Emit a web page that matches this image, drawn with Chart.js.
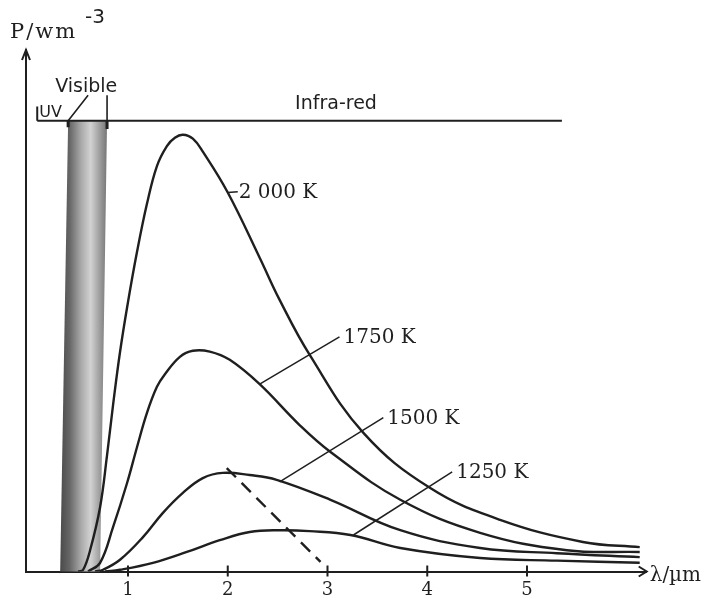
<!DOCTYPE html>
<html>
<head>
<meta charset="utf-8">
<script src="https://cdn.jsdelivr.net/npm/chart.js@4"></script>
<style>
  html, body { margin: 0; padding: 0; background: #fff; }
  #wrap { width: 705px; height: 600px; }
</style>
</head>
<body>
<div id="wrap"><canvas id="chart"></canvas></div>
<script>
// black-body curves, P in arbitrary units (2000 K peak ~ 100), λ in µm
const LAMBDA_2000 = [0.50, 0.55, 0.62, 0.72, 0.79, 0.85, 0.92, 1.00, 1.09, 1.19, 1.29, 1.39, 1.47, 1.55, 1.65, 1.75, 2.00, 2.32, 2.52, 2.82, 3.36, 4.03, 4.73, 5.56, 6.13];
const P_2000      = [0.0,  0.4,  4.9,  14.8, 26.8, 38.3, 50.5, 62.0, 73.5, 84.6, 93.3, 97.9, 99.8, 100.5, 99.6, 96.6, 87.2, 72.2, 62.5, 49.9, 31.9, 19.2, 11.9, 6.8, 5.6];

const LAMBDA_1750 = [0.60, 0.72, 0.85, 0.99, 1.09, 1.19, 1.29, 1.37, 1.52, 1.65, 1.82, 2.02, 2.32, 2.72, 3.03, 3.73, 4.53, 5.40, 6.13];
const P_1750      = [0.0,  2.0,  10.2, 20.3, 28.6, 36.5, 42.5, 45.4, 49.4, 50.8, 50.6, 48.7, 43.1, 33.7, 27.5, 16.5, 8.9,  4.9,  4.5];

const LAMBDA_1500 = [0.67, 0.75, 0.92, 1.15, 1.35, 1.55, 1.75, 1.95, 2.22, 2.49, 3.03, 3.73, 4.53, 5.30, 6.13];
const P_1500      = [0.0,  0.4,  2.7,  7.9,  13.5, 18.1, 21.5, 22.7, 22.2, 21.1, 16.5, 9.5,  5.4,  4.2,  3.3];

const LAMBDA_1250 = [0.77, 0.92, 1.25, 1.59, 1.92, 2.22, 2.52, 2.82, 3.23, 3.73, 4.53, 5.30, 6.13];
const P_1250      = [0.0,  0.4,  2.0,  4.5,  7.2,  9.1,  9.5,  9.3,  8.4,  5.4,  3.1,  2.5,  2.0];

// dashed locus of the maxima
const LAMBDA_PEAK = [1.99, 2.93];
const P_PEAK      = [23.8, 2.2];

const X_TICKS = [1, 2, 3, 4, 5];
const X_TICK_LABELS = ["1", "2", "3", "4", "5"];
const TEMP_LABELS = ["2 000 K", "1750 K", "1500 K", "1250 K"];

// visible band edges in µm (top / bottom of the band)
const VISIBLE_TOP = [0.40, 0.79];
const VISIBLE_BOTTOM = [0.32, 0.72];

const X_MIN = -0.0226, X_MAX = 6.2, Y_MAX = 120;
const INK = "#1f1f1f";

// label leaders: [from λ, from P, to λ, to P]  (text sits right of the end point)
const LEADERS = [
  [2.00, 87.2, 2.10, 87.4],
  [2.32, 43.1, 3.12, 54.0],
  [2.52, 20.6, 3.56, 35.4],
  [3.26, 8.4, 4.25, 22.9],
];

const pts = (xs, ys) => xs.map((x, i) => ({ x, y: ys[i] }));

const curve = (data) => ({
  data,
  borderColor: INK,
  borderWidth: 2.4,
  pointRadius: 0,
  tension: 0.4,
  fill: false,
});

const decorations = {
  id: "decorations",
  beforeDatasetsDraw(chart) {
    const { ctx, chartArea: a, scales: { x, y } } = chart;
    const irY = y.getPixelForValue(103.7);
    const tl = x.getPixelForValue(VISIBLE_TOP[0]), tr = x.getPixelForValue(VISIBLE_TOP[1]);
    const bl = x.getPixelForValue(VISIBLE_BOTTOM[0]), br = x.getPixelForValue(VISIBLE_BOTTOM[1]);
    const g = ctx.createLinearGradient(Math.min(tl, bl), 0, Math.max(tr, br), 0);
    g.addColorStop(0, "#4a4a4a");
    g.addColorStop(0.2, "#666");
    g.addColorStop(0.45, "#aaa");
    g.addColorStop(0.65, "#d2d2d2");
    g.addColorStop(0.85, "#9c9c9c");
    g.addColorStop(1, "#767676");
    ctx.save();
    ctx.fillStyle = g;
    ctx.beginPath();
    ctx.moveTo(tl, irY);
    ctx.lineTo(tr, irY);
    ctx.lineTo(br, a.bottom);
    ctx.lineTo(bl, a.bottom);
    ctx.closePath();
    ctx.fill();
    ctx.restore();
  },
  afterDatasetsDraw(chart) {
    const { ctx, chartArea: a, scales: { x, y } } = chart;
    const X = v => x.getPixelForValue(v), Y = v => y.getPixelForValue(v);
    ctx.save();
    ctx.strokeStyle = INK;
    ctx.fillStyle = INK;
    ctx.lineCap = "butt";

    // infra-red bar + UV / visible markers
    ctx.lineWidth = 2;
    ctx.beginPath();
    ctx.moveTo(X(0.09), Y(103.7)); ctx.lineTo(X(5.35), Y(103.7));
    ctx.moveTo(X(0.09), Y(103.7)); ctx.lineTo(X(0.09), Y(107.0));
    ctx.stroke();
    ctx.lineWidth = 1.6;
    ctx.beginPath();
    ctx.moveTo(X(0.60), Y(109.6)); ctx.lineTo(X(0.40), Y(103.7));
    ctx.moveTo(X(0.79), Y(109.6)); ctx.lineTo(X(0.79), Y(103.7));
    ctx.stroke();
    ctx.lineWidth = 3;
    ctx.beginPath();
    ctx.moveTo(X(0.79), Y(103.7)); ctx.lineTo(X(0.79), Y(101.8));
    ctx.moveTo(X(0.40), Y(103.7)); ctx.lineTo(X(0.40), Y(102.2));
    ctx.stroke();

    ctx.textBaseline = "middle";
    ctx.textAlign = "center";
    ctx.font = "19px 'DejaVu Sans'";
    ctx.fillText("Infra-red", X(3.085), Y(107.6));
    ctx.textAlign = "left";
    ctx.fillText("Visible", X(0.27), Y(111.5));
    ctx.font = "16px 'DejaVu Sans'";
    ctx.fillText("UV", X(0.11), Y(105.6));

    // temperature labels with leader lines
    ctx.lineWidth = 1.5;
    ctx.font = "20px 'DejaVu Serif'";
    LEADERS.forEach(([x0, y0, x1, y1], i) => {
      ctx.beginPath();
      ctx.moveTo(X(x0), Y(y0));
      ctx.lineTo(X(x1), Y(y1));
      ctx.stroke();
      ctx.fillText(TEMP_LABELS[i], X(x1) + (i === 0 ? 1 : 4), Y(y1) + 1);
    });

    // axis ticks and arrows
    ctx.lineWidth = 2;
    ctx.beginPath();
    X_TICKS.forEach(v => {
      ctx.moveTo(X(v), a.bottom - 6);
      ctx.lineTo(X(v), a.bottom + 5);
    });
    ctx.moveTo(a.left - 4, a.top + 10); ctx.lineTo(a.left, a.top); ctx.lineTo(a.left + 4, a.top + 10);
    ctx.moveTo(a.right - 8, a.bottom - 5); ctx.lineTo(a.right, a.bottom); ctx.lineTo(a.right - 8, a.bottom + 5);
    ctx.stroke();

    // axis titles
    ctx.textAlign = "left";
    ctx.textBaseline = "alphabetic";
    ctx.font = "21px 'DejaVu Serif'";
    ctx.letterSpacing = "2px";
    ctx.fillText("P/wm", a.left - 16, a.top - 12);
    ctx.letterSpacing = "0px";
    ctx.font = "20px 'DejaVu Sans'";
    ctx.fillText("-3", a.left + 59, a.top - 27);
    ctx.font = "20px 'DejaVu Serif'";
    ctx.textBaseline = "middle";
    ctx.fillText("λ/µm", a.right + 3, a.bottom + 4);
    ctx.restore();
  },
};

new Chart(document.getElementById("chart"), {
  type: "line",
  data: {
    datasets: [
      curve(pts(LAMBDA_2000, P_2000)),
      curve(pts(LAMBDA_1750, P_1750)),
      curve(pts(LAMBDA_1500, P_1500)),
      curve(pts(LAMBDA_1250, P_1250)),
      {
        data: pts(LAMBDA_PEAK, P_PEAK),
        borderColor: INK,
        borderWidth: 2.4,
        borderDash: [13, 8],
        pointRadius: 0,
        fill: false,
      },
    ],
  },
  options: {
    responsive: true,
    maintainAspectRatio: false,
    animation: false,
    layout: { padding: { left: 26, top: 50, right: 58.3, bottom: 0 } },
    plugins: { legend: { display: false }, tooltip: { enabled: false } },
    scales: {
      x: {
        type: "linear",
        min: X_MIN,
        max: X_MAX,
        afterFit: s => { s.height = 28.5; },
        afterBuildTicks: s => { s.ticks = X_TICKS.map(v => ({ value: v })); },
        border: { display: true, color: INK, width: 2 },
        grid: { display: false, drawTicks: false },
        ticks: {
          padding: 8,
          color: INK,
          maxRotation: 0,
          autoSkip: false,
          font: { family: "DejaVu Serif", size: 18 },
          callback: (v, i) => X_TICK_LABELS[i] ?? "",
        },
      },
      y: {
        min: 0,
        max: Y_MAX,
        afterFit: s => { s.width = 0; },
        border: { display: true, color: INK, width: 2 },
        grid: { display: false, drawTicks: false },
        ticks: { display: false },
      },
    },
  },
  plugins: [decorations],
});
</script>
</body>
</html>
